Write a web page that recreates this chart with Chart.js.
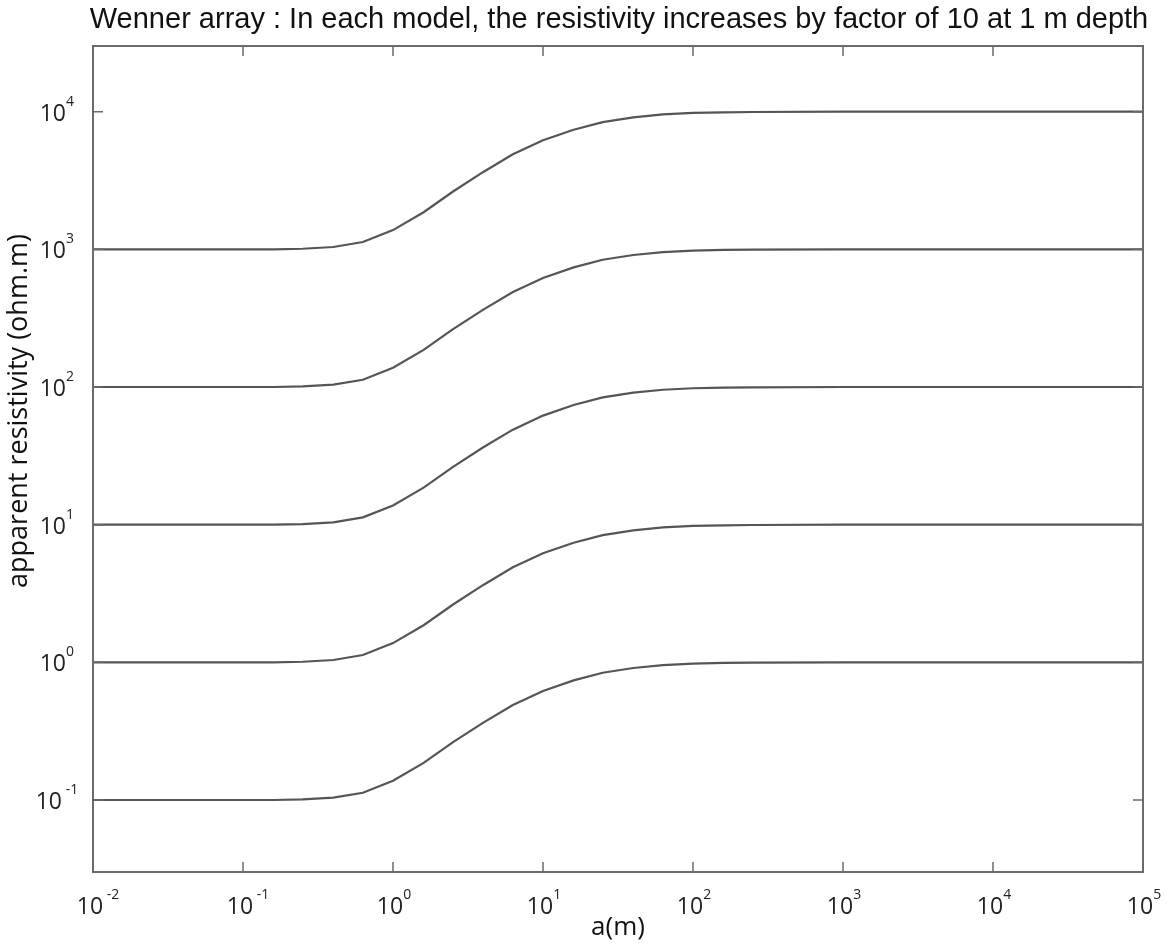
<!DOCTYPE html>
<html>
<head>
<meta charset="utf-8">
<script src="https://cdn.jsdelivr.net/npm/chart.js@4.4.1/dist/chart.umd.min.js"></script>
<style>
  html, body { margin: 0; padding: 0; background: #fff; }
  #wrap { width: 1167px; height: 945px; }
</style>
</head>
<body>
<div id="wrap"><canvas id="grafico"></canvas></div>
<script>
// electrode spacing a (m)
const spacing = [0.01, 0.1, 0.16, 0.25, 0.4, 0.63, 1, 1.6, 2.5, 4, 6.3, 10, 16, 25, 40, 63, 100, 160, 250, 1000, 100000];

// apparent resistivity for each model (ohm.m)
const model01 = [0.1, 0.1, 0.1, 0.101, 0.104, 0.113, 0.138, 0.186, 0.262, 0.365, 0.49, 0.62, 0.74, 0.84, 0.91, 0.955, 0.98, 0.99, 0.995, 1, 1];
const model1 = [1, 1, 1, 1.01, 1.04, 1.13, 1.38, 1.86, 2.62, 3.65, 4.9, 6.2, 7.4, 8.4, 9.1, 9.55, 9.8, 9.9, 9.95, 10, 10];
const model10 = [10, 10, 10, 10.1, 10.4, 11.3, 13.8, 18.6, 26.2, 36.5, 49, 62, 74, 84, 91, 95.5, 98, 99, 99.5, 100, 100];
const model100 = [100, 100, 100, 101, 104, 113, 138, 186, 262, 365, 490, 620, 740, 840, 910, 955, 980, 990, 995, 1000, 1000];
const model1000 = [1000, 1000, 1000, 1010, 1040, 1130, 1380, 1860, 2620, 3650, 4900, 6200, 7400, 8400, 9100, 9550, 9800, 9900, 9950, 10000, 10000];

// tick exponents (labels 10^n)
const xTickExp = [-2, -1, 0, 1, 2, 3, 4, 5];
const yTickExp = [-1, 0, 1, 2, 3, 4];

const titulo = 'Wenner array : In each model, the resistivity increases by factor of 10 at 1 m depth';
const tituloX = 'a(m)';
const tituloY = 'apparent resistivity (ohm.m)';

function pontos(ys) {
    return spacing.map((a, i) => ({ x: a, y: ys[i] }));
}

const corLinha = '#555555';
const corEixo = '#6b6b6b';

const serie = (label, ys) => ({
    label: label,
    data: pontos(ys),
    showLine: true,
    borderColor: corLinha,
    borderWidth: 2.2,
    pointRadius: 0,
    tension: 0,
    fill: false
});

// desenha moldura, ticks internos, rotulos com expoente e titulos
const eixosMatlab = {
    id: 'eixosMatlab',
    afterDraw(chart) {
        const ctx = chart.ctx;
        const area = chart.chartArea;
        const sx = chart.scales.x;
        const sy = chart.scales.y;
        ctx.save();

        ctx.strokeStyle = corEixo;
        ctx.lineWidth = 2;
        ctx.strokeRect(area.left, area.top, area.right - area.left, area.bottom - area.top);

        ctx.lineWidth = 1.5;
        const tam = 10;
        ctx.beginPath();
        xTickExp.forEach(e => {
            const px = sx.getPixelForValue(Math.pow(10, e));
            ctx.moveTo(px, area.bottom); ctx.lineTo(px, area.bottom - tam);
            ctx.moveTo(px, area.top); ctx.lineTo(px, area.top + tam);
        });
        yTickExp.forEach(e => {
            const py = sy.getPixelForValue(Math.pow(10, e));
            ctx.moveTo(area.left, py); ctx.lineTo(area.left + tam, py);
            ctx.moveTo(area.right, py); ctx.lineTo(area.right - tam, py);
        });
        ctx.stroke();

        ctx.fillStyle = '#222';
        const fBase = '23px "Open Sans"';
        const fExp = '14px "Open Sans"';
        const expTxt = e => (e < 0 ? ' -' + (-e) : String(e));

        // rotulos do eixo x
        xTickExp.forEach(e => {
            const px = sx.getPixelForValue(Math.pow(10, e));
            ctx.font = fBase;
            ctx.textBaseline = 'alphabetic';
            const w = ctx.measureText('10').width;
            ctx.textAlign = 'left';
            ctx.fillText('10', px - w / 2 - 3, 914);
            ctx.font = fExp;
            ctx.fillText(expTxt(e), px + w / 2 - 3, 899);
        });

        // rotulos do eixo y
        yTickExp.forEach(e => {
            const py = sy.getPixelForValue(Math.pow(10, e));
            const xr = e < 0 ? 62 : 66;
            ctx.font = fBase;
            ctx.textAlign = 'right';
            ctx.fillText('10', xr, py + 9);
            ctx.font = fExp;
            ctx.textAlign = 'left';
            ctx.fillText(expTxt(e), xr, py - 6);
        });

        // titulos
        ctx.fillStyle = '#111';
        ctx.textAlign = 'center';
        ctx.textBaseline = 'middle';
        ctx.font = '29px "Liberation Sans"';
        ctx.fillText(titulo, (area.left + area.right) / 2 + 1, 20);

        ctx.font = '26px "Open Sans"';
        ctx.fillText(tituloX, (area.left + area.right) / 2, 928);

        ctx.font = '27px "Open Sans"';
        ctx.translate(19, 411);
        ctx.rotate(-Math.PI / 2);
        ctx.fillText(tituloY, 0, 0);
        ctx.restore();
    }
};

const ctxGrafico = document.getElementById('grafico').getContext('2d');

const grafico = new Chart(ctxGrafico, {
    type: 'scatter',
    data: {
        datasets: [
            serie('0.1 -> 1', model01),
            serie('1 -> 10', model1),
            serie('10 -> 100', model10),
            serie('100 -> 1000', model100),
            serie('1000 -> 10000', model1000)
        ]
    },
    options: {
        responsive: true,
        maintainAspectRatio: false,
        animation: false,
        layout: {
            padding: { left: 93, right: 24, top: 46, bottom: 73 }
        },
        plugins: {
            legend: { display: false },
            tooltip: { enabled: false },
            title: { display: false }
        },
        scales: {
            x: {
                type: 'logarithmic',
                min: 0.01,
                max: 100000,
                display: false
            },
            y: {
                type: 'logarithmic',
                min: 0.03,
                max: 30000,
                display: false
            }
        }
    },
    plugins: [eixosMatlab]
});
</script>
</body>
</html>
